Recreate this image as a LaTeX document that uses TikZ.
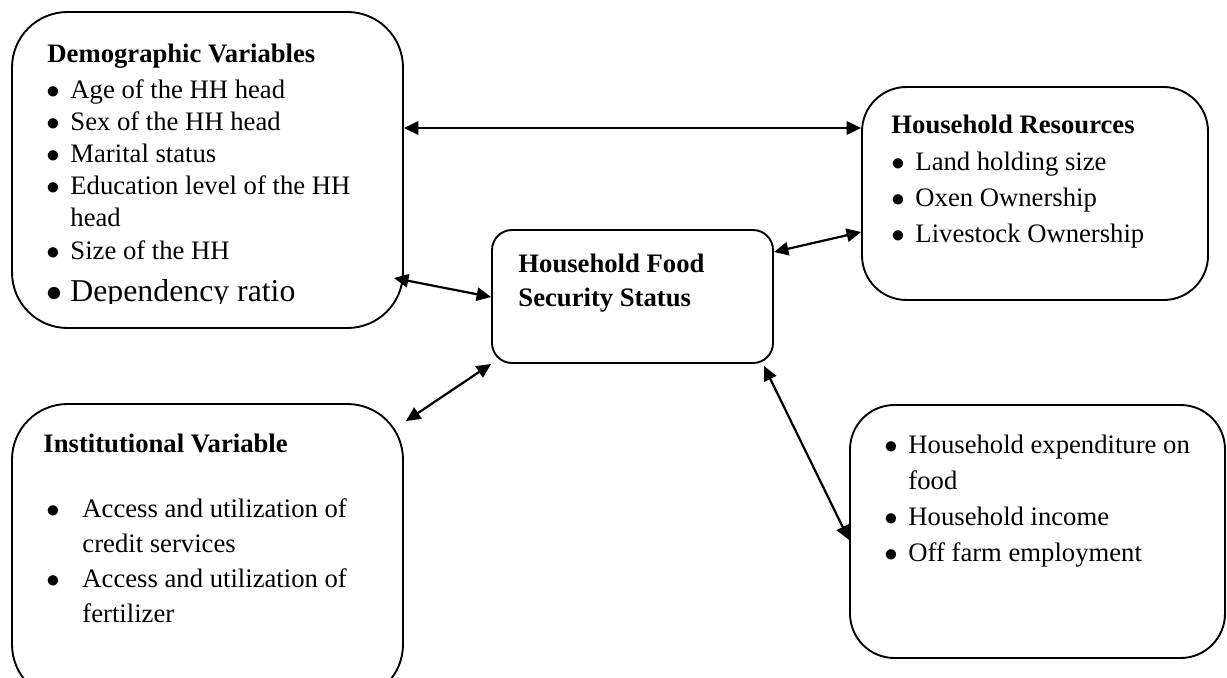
\documentclass[tikz,border=0pt]{standalone}
\usepackage{fontspec}
\setmainfont{Liberation Serif}
\usepackage{xcolor}
\usepackage{tikz}
\usetikzlibrary{arrows.meta}
\usetikzlibrary{positioning}
\usetikzlibrary{fit}
\usetikzlibrary{calc}

\newcommand{\bul}{$\bullet$}

\begin{document}
\begin{tikzpicture}[x=0.45pt, y=-0.45pt, >={Triangle[length=6.5pt,width=6pt]},
    box/.style={draw, line width=0.85pt, inner sep=0pt, rounded corners=#1},
    txt/.style={inner sep=0pt, anchor=base west, font=\fontsize{12}{#1}\selectfont},
    link/.style={<->, line width=1pt}]
  \useasboundingbox (0,0) rectangle (1227,677);
  \clip (0,0) rectangle (1227,677);

  \node[box=25pt, fit={(12,12) (403,328)}] (Demo) {};
  \node[box=9pt, fit={(492,230) (773,363)}] (Food) {};
  \node[box=20pt, fit={(862,87) (1208,300)}] (Res) {};
  \node[box=25pt, fit={(12,404) (403,700)}] (Inst) {};
  \node[box=20pt, fit={(850,405) (1225,658)}] (Econ) {};

  \node[txt=14.5pt] (DemoHead) at (47,62) {\textbf{Demographic Variables}};
  \node[txt=14.5pt] (DemoList) at (46,98) {\begin{tabular}[t]{@{}p{10.8pt}@{}l@{}}
      \bul & Age of the HH head\\
      \bul & Sex of the HH head\\
      \bul & Marital status\\
      \bul & Education level of the HH\\
           & head\\
      \bul & Size of the HH
    \end{tabular}};
  \begin{scope}
    \clip (12,12) rectangle (403,303);
    \node[txt=16pt, font=\fontsize{14.3}{16}\selectfont] (DemoDep) at (46,301)
      {\makebox[10.8pt][l]{\bul}Dependency ratio};
  \end{scope}

  \node[txt=15.3pt] (FoodHead) at (518,272) {\bfseries\begin{tabular}[t]{@{}l@{}}
      Household Food\\
      Security Status
    \end{tabular}};

  \node[txt=16.4pt] (ResHead) at (891,133) {\textbf{Household Resources}};
  \node[txt=16.4pt] (ResList) at (891,170) {\begin{tabular}[t]{@{}p{10.8pt}@{}l@{}}
      \bul & Land holding size\\
      \bul & Oxen Ownership\\
      \bul & Livestock Ownership
    \end{tabular}};

  \node[txt=15.75pt] (InstHead) at (43,452) {\textbf{Institutional Variable}};
  \node[txt=15.75pt] (InstList) at (46,517) {\begin{tabular}[t]{@{}p{16.2pt}@{}l@{}}
      \bul & Access and utilization of\\
           & credit services\\
      \bul & Access and utilization of\\
           & fertilizer
    \end{tabular}};

  \node[txt=16.3pt] (EconList) at (884,453) {\begin{tabular}[t]{@{}p{10.8pt}@{}l@{}}
      \bul & Household expenditure on\\
           & food\\
      \bul & Household income\\
      \bul & Off farm employment
    \end{tabular}};

  \draw[link] (Demo.east |- 0,128) -- (Res.west |- 0,128);
  \draw[link] ($(Demo.east |- 0,278)+(-10,0)$) -- (Food.west |- 0,297);
  \draw[link] (Food.east |- 0,252) -- (Res.west |- 0,232);
  \draw[link] ($(Inst.north east)+(2,18)$) -- (Food.south west);
  \draw[link] ($(Food.south east)+(-10,2)$) -- (Econ.west |- 0,540);
\end{tikzpicture}
\end{document}
